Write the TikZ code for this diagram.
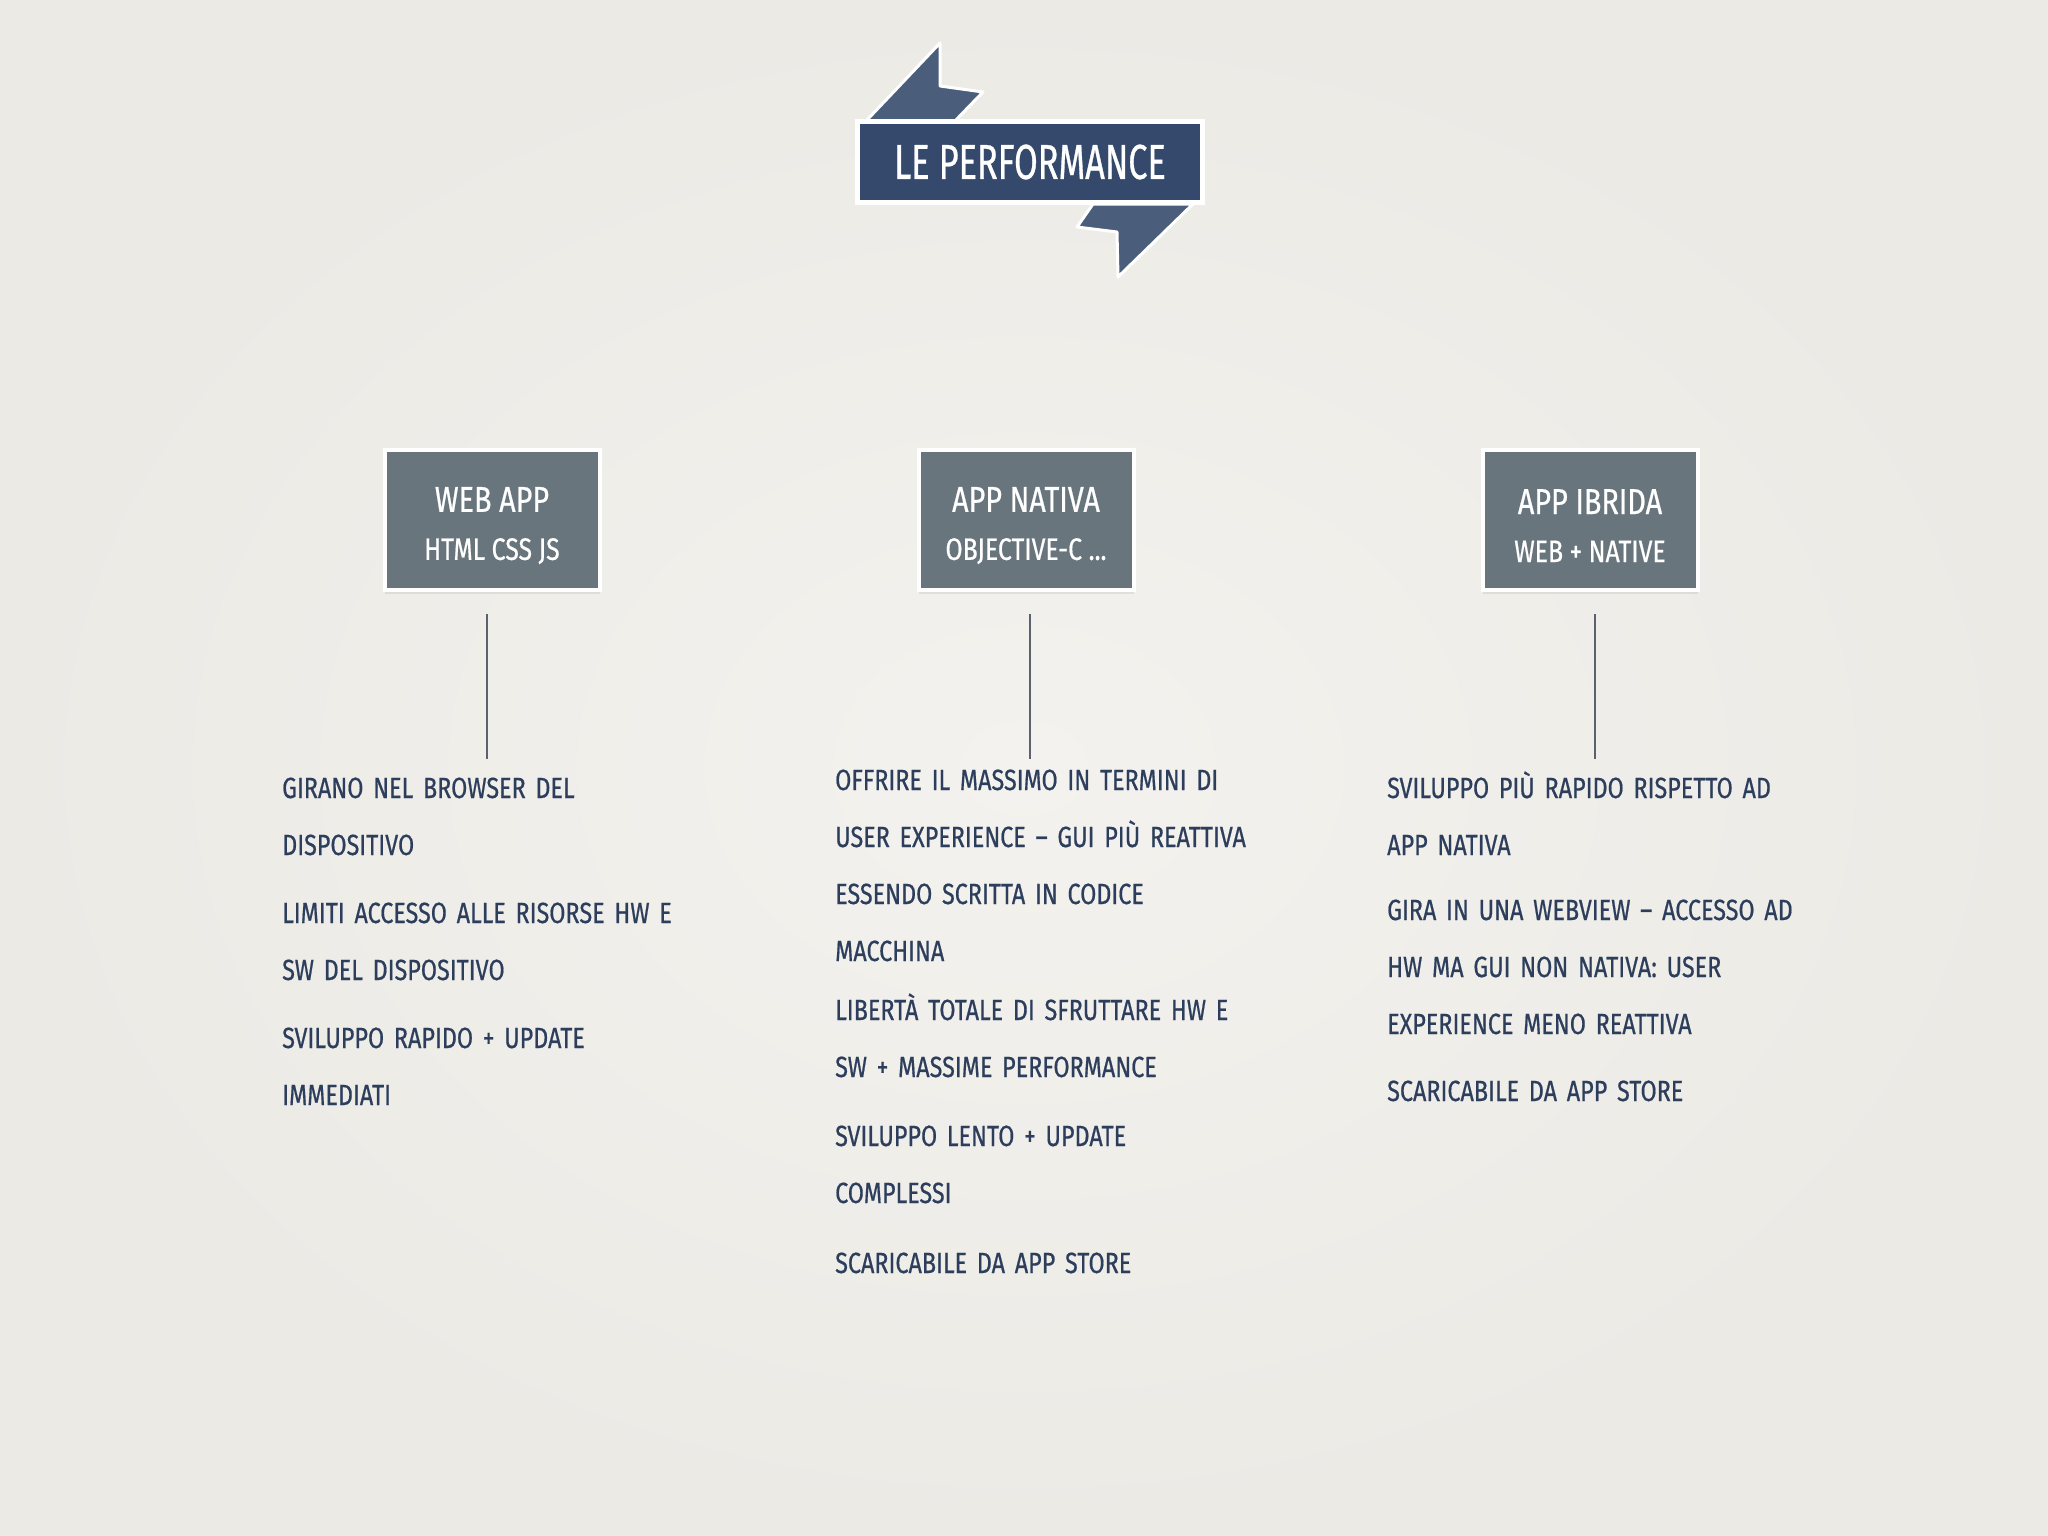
\documentclass[tikz,border=0pt]{standalone}
\usepackage{fontspec}
\setmainfont{Fira Sans}[FakeStretch=0.8, FakeBold=0.6]
\newfontfamily\bannerfamily{Fira Sans}[FakeStretch=0.7, FakeBold=0.6]
\usetikzlibrary{positioning,shadows}

\definecolor{paper}{RGB}{244,242,238}
\definecolor{paperedge}{RGB}{236,234,229}
\definecolor{ribbon}{RGB}{52,73,107}
\definecolor{ribbontail}{RGB}{74,94,124}
\definecolor{slate}{RGB}{104,117,125}
\definecolor{ink}{RGB}{44,62,92}
\definecolor{rule}{RGB}{90,98,110}

\newcommand\bodyfont{\fontsize{29.2}{57}\selectfont}
\newcommand\headfont{\fontsize{36}{48}\selectfont}
\newcommand\subfont{\fontsize{31}{48}\selectfont}
\newcommand\bannerfont{\bannerfamily\fontsize{49}{52}\selectfont}
\newcommand\headstrut{\rule{0pt}{36pt}}

\tikzset{
banner/.style={
  rectangle, fill=ribbon, draw=white, line width=5pt,
  minimum width=345pt, minimum height=80pt,
  text=white, font=\bannerfont
  },
tail/.style={fill=ribbontail, draw=white, line width=3pt, line join=round},
platform/.style={
  rectangle, fill=slate, draw=white, line width=4pt,
  minimum width=215pt, minimum height=140pt,
  text=white, align=center, font=\headfont,
  drop shadow={opacity=0.15, shadow xshift=0pt, shadow yshift=-4pt}
  },
notes/.style={
  anchor=base west, inner sep=0pt, text width=500pt,
  align=left, text=ink, font=\bodyfont
  },
link/.style={draw=rule, line width=1.5pt, shorten <=22pt}
}

\begin{document}
\begin{tikzpicture}[x=1pt,y=-1pt]

\shade[inner color=paper, outer color=paperedge] (0,0) rectangle (2048,1536);
\useasboundingbox (0,0) rectangle (2048,1536);

% ribbon tails behind the title
\filldraw[tail] (866,121) -- (940,43) -- (940,86) -- (983,92) -- (955,121) -- cycle;
\filldraw[tail] (1093,204) -- (1077,227) -- (1117,232) -- (1118,277) -- (1193,204) -- cycle;

\node[banner] (title) at (1030,162) {LE PERFORMANCE};

\node[platform] (web) at (492,520) {\headstrut WEB APP\\{\subfont HTML CSS JS}};
\node[platform] (native) at (1026,520) {\headstrut APP NATIVA\\{\subfont OBJECTIVE-C ...}};
\node[platform] (hybrid) at (1590,520) {\headstrut APP IBRIDA\\{\subfont WEB + NATIVE}};

\coordinate (linebot) at (0,759);

\draw[link] ([xshift=-5pt]web.south) -- ([xshift=-5pt]web.south |- linebot);
\draw[link] ([xshift=4pt]native.south) -- ([xshift=4pt]native.south |- linebot);
\draw[link] ([xshift=5pt]hybrid.south) -- ([xshift=5pt]hybrid.south |- linebot);

\node[notes] (webtxt) at (282,798)
{
  GIRANO NEL BROWSER DEL\\
  DISPOSITIVO\\[11pt]
  LIMITI ACCESSO ALLE RISORSE HW E\\
  SW DEL DISPOSITIVO\\[11pt]
  SVILUPPO RAPIDO + UPDATE\\
  IMMEDIATI
};

\node[notes] (nativetxt) at (835,790)
{
  OFFRIRE IL MASSIMO IN TERMINI DI\\
  USER EXPERIENCE -- GUI PIÙ REATTIVA\\
  ESSENDO SCRITTA IN CODICE\\
  MACCHINA\\[2pt]
  LIBERTÀ TOTALE DI SFRUTTARE HW E\\
  SW + MASSIME PERFORMANCE\\[12pt]
  SVILUPPO LENTO + UPDATE\\
  COMPLESSI\\[13pt]
  SCARICABILE DA APP STORE
};

\node[notes] (hybridtxt) at (1387,798)
{
  SVILUPPO PIÙ RAPIDO RISPETTO AD\\
  APP NATIVA\\[8pt]
  GIRA IN UNA WEBVIEW -- ACCESSO AD\\
  HW MA GUI NON NATIVA: USER\\
  EXPERIENCE MENO REATTIVA\\[10pt]
  SCARICABILE DA APP STORE
};

\end{tikzpicture}
\end{document}
